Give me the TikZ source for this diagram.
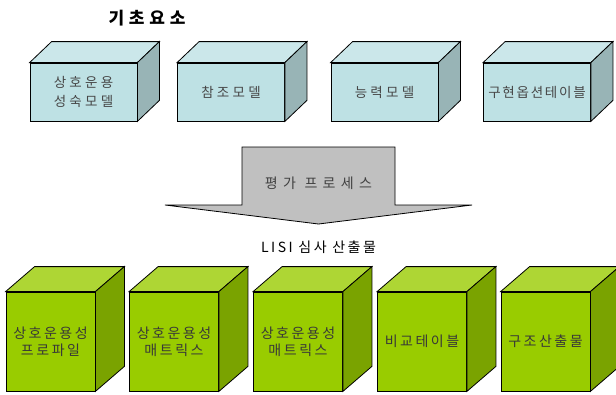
\documentclass[tikz,border=0pt]{standalone}
\usepackage{fontspec}
\newfontfamily\kr[LetterSpace=24]{Noto Sans CJK KR}
\newfontfamily\krtight[LetterSpace=13]{Noto Sans CJK KR}
\newfontfamily\krwide[LetterSpace=18]{Noto Sans CJK KR}
\newfontfamily\krhead[LetterSpace=28]{Noto Sans CJK KR}
\newfontfamily\krproc[LetterSpace=38]{Noto Sans CJK KR}
\definecolor{baseFront}{HTML}{BEE1E4}
\definecolor{baseTop}{HTML}{CBE7EA}
\definecolor{baseSide}{HTML}{98B4B6}
\definecolor{outFront}{HTML}{99CC00}
\definecolor{outTop}{HTML}{AED634}
\definecolor{outSide}{HTML}{7AA300}
\definecolor{procGray}{HTML}{C0C0C0}
\tikzset{
  basebox/.style={draw=black,line width=0.8pt,fill=baseFront,minimum width=107pt,minimum height=58pt,
    inner sep=0pt,align=center,text=black!72,font=\kr\fontsize{13.5}{19}\selectfont},
  outbox/.style={draw=black,line width=0.8pt,fill=outFront,minimum width=89pt,minimum height=99pt,
    inner sep=0pt,align=center,text=black!78,font=\krwide\fontsize{14}{17}\selectfont},
  label/.style={inner sep=0pt,font=\krwide\fontsize{14}{16}\selectfont}
}
\begin{document}
\begin{tikzpicture}[x=1pt,y=-1pt]
  \useasboundingbox (0,0) rectangle (616,394);
  \node[label,font=\krhead\fontsize{17}{20}\selectfont\bfseries] (title) at (147,18) {기초요소};

  \node[basebox] (maturity) at (83.5,92) {상호운용\\성숙모델};
  \node[basebox] (reference) at (231,92) {참조모델};
  \node[basebox] (capability) at (384.5,92) {능력모델};
  \node[basebox,font=\krtight\fontsize{13.5}{19}\selectfont] (options) at (537,92) {구현옵션테이블};
  \foreach \n in {maturity,reference,capability,options}{
    \path[draw=black,line width=0.8pt,fill=baseTop] (\n.north west) -- ++(22,-21) -- ([shift={(22,-21)}]\n.north east) -- (\n.north east) -- cycle;
    \path[draw=black,line width=0.8pt,fill=baseSide] (\n.north east) -- ++(22,-21) -- ([shift={(22,-21)}]\n.south east) -- (\n.south east) -- cycle;
  }

  \path[draw=black,line width=0.8pt,fill=procGray]
    (242,147) -- (395,147) -- (395,205) -- (472,205) -- (318.5,224) -- (165,205) -- (242,205) -- cycle;
  \node[label,text=black!75,font=\krproc\fontsize{14}{16}\selectfont] (process) at (318.5,183) {평가 프로세스};
  \node[label] (results) at (318.5,247) {LISI 심사 산출물};

  \node[outbox] (profile) at (50.5,341.5) {상호운용성\\프로파일};
  \node[outbox] (matrixa) at (174,341.5) {상호운용성\\매트릭스};
  \node[outbox] (matrixb) at (298,341.5) {상호운용성\\매트릭스};
  \node[outbox] (compare) at (422,341.5) {비교테이블};
  \node[outbox] (structure) at (545.5,341.5) {구조산출물};
  \foreach \n in {profile,matrixa,matrixb,compare,structure}{
    \path[draw=black,line width=0.8pt,fill=outTop] (\n.north west) -- ++(29,-25) -- ([shift={(29,-25)}]\n.north east) -- (\n.north east) -- cycle;
    \path[draw=black,line width=0.8pt,fill=outSide] (\n.north east) -- ++(29,-25) -- ([shift={(29,-25)}]\n.south east) -- (\n.south east) -- cycle;
  }
\end{tikzpicture}
\end{document}
